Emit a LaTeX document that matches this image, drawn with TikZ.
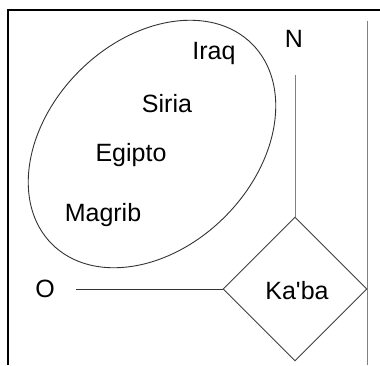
\documentclass[tikz,border=0pt]{standalone}
\usepackage{fontspec}
\setmainfont{Liberation Sans}
\usetikzlibrary{shapes.geometric}
\definecolor{lineA}{HTML}{333333}
\definecolor{lineB}{HTML}{808080}
\begin{document}
\begin{tikzpicture}[x=1pt,y=-1pt,
  lbl/.style={font=\fontsize{25}{29}\selectfont, inner sep=0pt},
  thin line/.style={draw=lineA, line width=0.9pt},
  gray line/.style={draw=lineB, line width=1pt}]
\useasboundingbox (0,0) rectangle (380,365);
\fill[white] (0,0) rectangle (380,365);
% frame
\draw[line width=1.6pt] (8,365) -- (8,10) -- (380,10);
\coordinate (r1) at (367,21);
\coordinate (r2) at (367,365);
\draw[gray line] (r1) -- (r2);
% region ellipse
\node (reg) [ellipse, thin line, minimum width=283pt, minimum height=206pt, inner sep=0pt, rotate=45] at (152,144) {};
\node (iraq) [lbl] at (214,53) {Iraq};
\node (siria) [lbl] at (167,104) {Siria};
\node (egipto) [lbl] at (131,155) {Egipto};
\node (magrib) [lbl] at (103,215) {Magrib};
% Kaaba
\node (K) [diamond, thin line, draw=black!75, aspect=1, minimum width=144pt, minimum height=144pt, inner sep=0pt] at (295,289) {};
\node (ktext) [lbl] at (297,291) {Ka\textquotesingle ba};
\node (N) [lbl] at (294,39) {N};
\node (O) [lbl] at (45,289) {O};
\coordinate (n1) at (295,75);
\coordinate (o1) at (76,289);
\draw[gray line] (n1) -- (K.north);
\draw[thin line] (o1) -- (K.west);
\end{tikzpicture}
\end{document}
